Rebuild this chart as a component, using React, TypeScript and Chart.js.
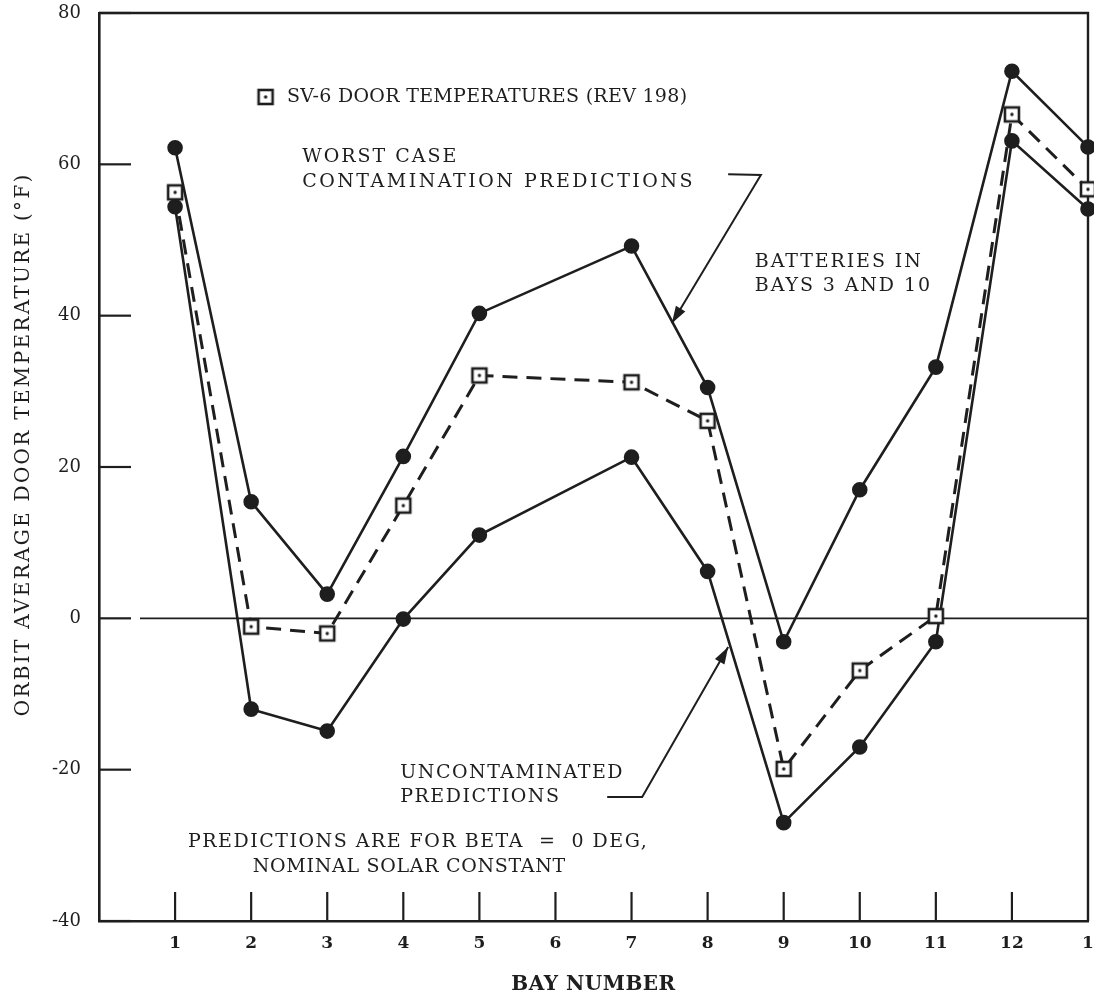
import React, { useEffect, useRef } from 'react';
import { Chart, registerables } from 'chart.js';

Chart.register(...registerables);

// ---------- data ----------
const bayLabels = ['1', '2', '3', '4', '5', '6', '7', '8', '9', '10', '11', '12', '1'];
const bayPositions = [1, 2, 3, 4, 5, 7, 8, 9, 10, 11, 12, 13];
const measuredSV6 = [56.3, -1.1, -2.0, 14.9, 32.1, 31.2, 26.1, -19.9, -6.9, 0.3, 66.6, 56.7];
const worstCase = [62.2, 15.4, 3.2, 21.4, 40.3, 49.2, 30.5, -3.1, 17.0, 33.2, 72.3, 62.3];
const uncontaminated = [54.4, -12.0, -14.9, -0.1, 11.0, 21.3, 6.2, -27.0, -17.0, -3.1, 63.1, 54.1];
const yTicks = [-40, -20, 0, 20, 40, 60, 80];

const INK = '#1e1e1e';
const SERIF = '"DejaVu Serif", "Liberation Serif", serif';

function makeSquareMarker(): HTMLCanvasElement {
  const c = document.createElement('canvas');
  c.width = 20;
  c.height = 20;
  const g = c.getContext('2d')!;
  g.fillStyle = '#ffffff';
  g.fillRect(3, 3, 14, 14);
  g.strokeStyle = INK;
  g.lineWidth = 2.6;
  g.strokeRect(3, 3, 14, 14);
  g.fillStyle = INK;
  g.beginPath();
  g.arc(10, 10, 1.7, 0, Math.PI * 2);
  g.fill();
  return c;
}

// annotation placement (data units)
const textNotes = [
  { text: 'SV-6 DOOR TEMPERATURES (REV 198)', x: 2.47, y: 68.9, sp: 0.3 },
  { text: 'WORST CASE', x: 2.67, y: 61.0, sp: 2.0 },
  { text: 'CONTAMINATION PREDICTIONS', x: 2.67, y: 57.6, sp: 2.5 },
  { text: 'BATTERIES IN', x: 8.62, y: 47.1, sp: 1.9 },
  { text: 'BAYS 3 AND 10', x: 8.62, y: 43.9, sp: 1.9 },
  { text: 'UNCONTAMINATED', x: 3.96, y: -20.4, sp: 1.5 },
  { text: 'PREDICTIONS', x: 3.96, y: -23.6, sp: 1.5 },
  { text: 'PREDICTIONS ARE FOR BETA  =  0 DEG,', x: 1.17, y: -29.6, sp: 1.5 },
  { text: 'NOMINAL SOLAR CONSTANT', x: 2.02, y: -32.9, sp: 0.7 },
];
const leaders = [
  { pts: [[8.27, 58.7], [8.70, 58.6], [7.53, 39.0]] },
  { pts: [[6.68, -23.6], [7.14, -23.6], [8.27, -3.8]] },
];

export default function App() {
  const ref = useRef<HTMLCanvasElement | null>(null);

  useEffect(() => {
    document.body.style.margin = '0';
    const canvas = ref.current!;
    const marker = makeSquareMarker();

    const frame = {
      id: 'frame',
      beforeDatasetsDraw(chart: any) {
        const { ctx, chartArea: a, scales } = chart;
        const xs = scales.x;
        const ys = scales.y;
        ctx.save();
        ctx.strokeStyle = INK;
        ctx.lineWidth = 2.4;
        ctx.beginPath();
        ctx.moveTo(a.left, a.top);
        ctx.lineTo(a.right, a.top);
        ctx.lineTo(a.right, a.bottom);
        ctx.stroke();
        ctx.lineWidth = 2.2;
        yTicks.forEach((v) => {
          const py = ys.getPixelForValue(v);
          ctx.beginPath();
          ctx.moveTo(a.left, py);
          ctx.lineTo(a.left + 32, py);
          ctx.stroke();
        });
        for (let i = 1; i < bayLabels.length; i++) {
          const px = xs.getPixelForValue(i);
          ctx.beginPath();
          ctx.moveTo(px, a.bottom);
          ctx.lineTo(px, a.bottom - 29);
          ctx.stroke();
        }
        ctx.lineWidth = 1.6;
        const z = ys.getPixelForValue(0);
        ctx.beginPath();
        ctx.moveTo(a.left + 41, z);
        ctx.lineTo(a.right, z);
        ctx.stroke();
        ctx.restore();
      },
      afterDatasetsDraw(chart: any) {
        const { ctx, chartArea: a, scales } = chart;
        const xs = scales.x;
        const ys = scales.y;
        const P = (x: number, y: number) => [xs.getPixelForValue(x), ys.getPixelForValue(y)];
        ctx.save();
        ctx.fillStyle = INK;
        ctx.strokeStyle = INK;
        ctx.font = `19px ${SERIF}`;
        ctx.textBaseline = 'middle';
        ctx.textAlign = 'left';
        textNotes.forEach((n) => {
          const [px, py] = P(n.x, n.y);
          (ctx as any).letterSpacing = `${n.sp}px`;
          ctx.fillText(n.text, px, py);
        });
        (ctx as any).letterSpacing = '0px';
        const [mx, my] = P(2.19, 68.9);
        ctx.drawImage(marker, mx - 10, my - 10);
        ctx.lineWidth = 2;
        leaders.forEach((l) => {
          const pts = l.pts.map((p) => P(p[0], p[1]));
          ctx.beginPath();
          ctx.moveTo(pts[0][0], pts[0][1]);
          for (let i = 1; i < pts.length; i++) ctx.lineTo(pts[i][0], pts[i][1]);
          ctx.stroke();
          const [tx, ty] = pts[pts.length - 1];
          const [sx, sy] = pts[pts.length - 2];
          const ang = Math.atan2(ty - sy, tx - sx);
          const len = 17;
          const hw = 5.5;
          const bx = tx - len * Math.cos(ang);
          const by = ty - len * Math.sin(ang);
          ctx.beginPath();
          ctx.moveTo(tx, ty);
          ctx.lineTo(bx + hw * Math.sin(ang), by - hw * Math.cos(ang));
          ctx.lineTo(bx - hw * Math.sin(ang), by + hw * Math.cos(ang));
          ctx.closePath();
          ctx.fill();
        });
        ctx.font = `bold 20px ${SERIF}`;
        ctx.textAlign = 'center';
        (ctx as any).letterSpacing = '0.5px';
        ctx.fillText('BAY NUMBER', (a.left + a.right) / 2, 985);
        ctx.save();
        ctx.translate(24, ys.getPixelForValue(23));
        ctx.rotate(-Math.PI / 2);
        ctx.font = `20px ${SERIF}`;
        (ctx as any).letterSpacing = '2.3px';
        ctx.fillText('ORBIT AVERAGE DOOR TEMPERATURE (\u00B0F)', 0, 0);
        ctx.restore();
        ctx.restore();
      },
    };

    const toXY = (vals: number[]) => vals.map((v, i) => ({ x: bayPositions[i], y: v }));

    const chart = new Chart(canvas, {
      type: 'line',
      data: {
        datasets: [
          {
            label: 'SV-6 DOOR TEMPERATURES (REV 198)',
            data: toXY(measuredSV6),
            borderColor: INK,
            borderWidth: 3,
            borderDash: [15, 9],
            pointStyle: marker as any,
            pointRadius: 10,
            clip: false as any,
          },
          {
            label: 'WORST CASE CONTAMINATION PREDICTIONS',
            data: toXY(worstCase),
            borderColor: INK,
            borderWidth: 2.6,
            pointBackgroundColor: INK,
            pointBorderColor: INK,
            pointRadius: 6.5,
            clip: false as any,
          },
          {
            label: 'UNCONTAMINATED PREDICTIONS',
            data: toXY(uncontaminated),
            borderColor: INK,
            borderWidth: 2.6,
            pointBackgroundColor: INK,
            pointBorderColor: INK,
            pointRadius: 6.5,
            clip: false as any,
          },
        ],
      },
      options: {
        animation: false,
        responsive: false,
        layout: { autoPadding: false, padding: { left: 0, right: 6, top: 13, bottom: 0 } },
        plugins: { legend: { display: false }, tooltip: { enabled: false } },
        scales: {
          x: {
            type: 'linear',
            min: 0,
            max: 13,
            afterFit: (s: any) => {
              s.height = 79;
              s.paddingLeft = 0;
              s.paddingRight = 0;
            },
            afterBuildTicks: (s: any) => {
              s.ticks = bayLabels.map((_, i) => ({ value: i + 1 }));
            },
            ticks: {
              autoSkip: false,
              maxRotation: 0,
              color: INK,
              padding: 12,
              font: { family: SERIF, size: 17, weight: 'bold' },
              callback: (v: any) => bayLabels[Number(v) - 1] ?? '',
            },
            grid: { display: false, drawTicks: false },
            border: { display: true, color: INK, width: 2.6 },
          },
          y: {
            min: -40,
            max: 80,
            afterFit: (s: any) => {
              s.width = 99;
              s.paddingTop = 0;
              s.paddingBottom = 0;
            },
            afterBuildTicks: (s: any) => {
              s.ticks = yTicks.map((v) => ({ value: v }));
            },
            ticks: {
              color: INK,
              padding: 18,
              font: { family: SERIF, size: 18 },
            },
            grid: { display: false, drawTicks: false },
            border: { display: true, color: INK, width: 2.6 },
          },
        },
      },
      plugins: [frame],
    });
    return () => chart.destroy();
  }, []);

  return <canvas ref={ref} width={1094} height={1000} style={{ display: 'block' }} />;
}
